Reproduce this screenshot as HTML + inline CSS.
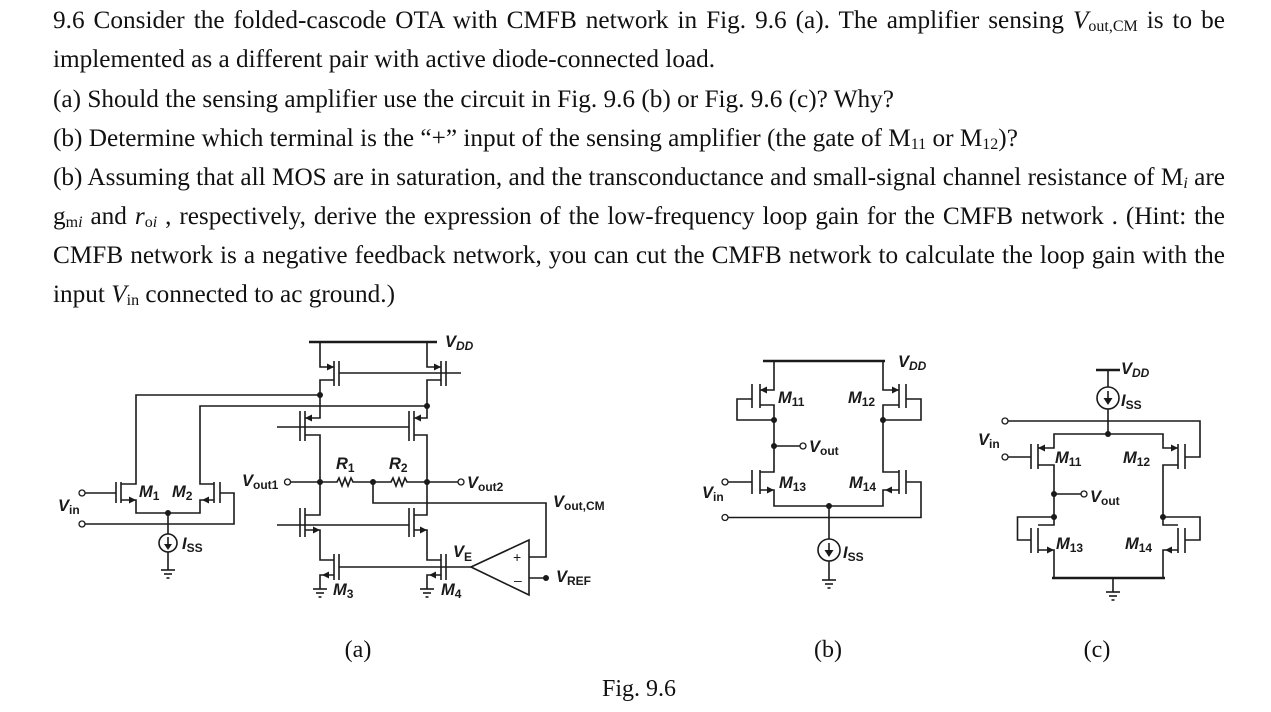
<!DOCTYPE html>
<html><head><meta charset="utf-8"><style>
html,body{margin:0;padding:0;background:#fff;}
body{width:1271px;height:712px;position:relative;overflow:hidden;}
.t{position:absolute;left:53px;width:1172px;font-family:"Liberation Serif","Times New Roman",serif;font-size:25.25px;line-height:39.2px;color:#111;white-space:nowrap;}
.j{text-align:justify;text-align-last:justify;}
.s{font-size:16px;vertical-align:-3px;line-height:0;}
svg{position:absolute;left:0;top:0;}
.w line,.w polyline{stroke:#1a1a1a;stroke-width:1.6;fill:none;}
.w circle.o{fill:#fff;stroke:#1a1a1a;stroke-width:1.3;}
.w circle.d{fill:#1a1a1a;}
.w polygon{fill:#1a1a1a;}
.l{font-family:"Liberation Sans",sans-serif;font-weight:bold;font-style:italic;font-size:16.5px;fill:#1a1a1a;}
.l tspan.b{font-size:12px;font-style:normal;}
.c{font-family:"Liberation Serif","Times New Roman",serif;font-size:24px;fill:#111;}
</style></head><body>
<div class="t j" style="top:1px">9.6 Consider the folded-cascode OTA with CMFB network in Fig. 9.6 (a). The amplifier sensing <i>V</i><span class="s">out,CM</span> is to be</div>
<div class="t" style="top:40px">implemented as a different pair with active diode-connected load.</div>
<div class="t" style="top:79.5px">(a) Should the sensing amplifier use the circuit in Fig. 9.6 (b) or Fig. 9.6 (c)? Why?</div>
<div class="t" style="top:119px">(b) Determine which terminal is the “+” input of the sensing amplifier (the gate of M<span class="s">11</span> or M<span class="s">12</span>)?</div>
<div class="t j" style="top:158px">(b) Assuming that all MOS are in saturation, and the transconductance and small-signal channel resistance of M<i class="s">i</i> are</div>
<div class="t j" style="top:197px">g<span class="s">m<i>i</i></span> and <i>r</i><span class="s">o<i>i</i></span> , respectively, derive the expression of the low-frequency loop gain for the CMFB network . (Hint: the</div>
<div class="t j" style="top:236px">CMFB network is a negative feedback network, you can cut the CMFB network to calculate the loop gain with the</div>
<div class="t" style="top:275px">input <i>V</i><span class="s">in</span> connected to ac ground.)</div>

<svg width="1271" height="712" class="w">
<line x1="309" y1="342" x2="437" y2="342" style="stroke-width:2.6"/>
<polyline points="320,342 320,367 334,367"/><polygon points="327,363.5 334,367 327,370.5"/>
<line x1="334" y1="361" x2="334" y2="386"/><line x1="339" y1="361" x2="339" y2="386"/>
<polyline points="334,380 320,380 320,418 305,418"/><polygon points="312,414.5 305,418 312,421.5"/>
<polyline points="427,342 427,367 441,367"/><polygon points="434,363.5 441,367 434,370.5"/>
<line x1="441" y1="361" x2="441" y2="386"/><line x1="446" y1="361" x2="446" y2="386"/>
<polyline points="441,380 427,380 427,418 414,418"/><polygon points="421,414.5 414,418 421,421.5"/>
<line x1="339" y1="373" x2="461" y2="373"/>
<circle class="d" cx="320" cy="395" r="3"/><circle class="d" cx="427" cy="406" r="3"/>
<polyline points="320,395 136,395 136,484 121,484"/>
<polyline points="427,406 200,406 200,484 214,484"/>
<line x1="305" y1="411" x2="305" y2="441"/><line x1="300" y1="411" x2="300" y2="441"/>
<polyline points="305,435 320,435 320,515 305,515"/>
<line x1="414" y1="411" x2="414" y2="441"/><line x1="409" y1="411" x2="409" y2="441"/>
<polyline points="414,435 427,435 427,515 414,515"/>
<line x1="277" y1="427" x2="409" y2="427"/>
<circle class="d" cx="320" cy="482" r="3"/><circle class="d" cx="427" cy="482" r="3"/><circle class="d" cx="373" cy="482" r="3"/>
<polyline points="290,482 337,482 339,478 342,486 345,478 348,486 351,478 353,482 391,482 393,478 396,486 399,478 402,486 405,478 407,482 458,482"/>
<circle class="o" cx="287.5" cy="482" r="3"/><circle class="o" cx="461" cy="482" r="3"/>
<polyline points="373,482 373,503 546,503 546,557 529,557"/>
<line x1="305" y1="508" x2="305" y2="537"/><line x1="300" y1="508" x2="300" y2="537"/>
<polyline points="305,530 320,530 320,560 334,560"/><polygon points="313,526.5 320,530 313,533.5"/>
<line x1="414" y1="508" x2="414" y2="537"/><line x1="409" y1="508" x2="409" y2="537"/>
<polyline points="414,530 427,530 427,560 441,560"/><polygon points="420,526.5 427,530 420,533.5"/>
<line x1="277" y1="525" x2="409" y2="525"/>
<line x1="334" y1="554" x2="334" y2="580"/><line x1="339" y1="554" x2="339" y2="580"/>
<polyline points="334,575 320,575 320,589"/><polygon points="329,571.5 322,575 329,578.5"/>
<line x1="441" y1="554" x2="441" y2="580"/><line x1="446" y1="554" x2="446" y2="580"/>
<polyline points="441,575 427,575 427,589"/><polygon points="436,571.5 429,575 436,578.5"/>
<line x1="339" y1="567" x2="471" y2="567"/>
<line x1="313" y1="589" x2="327" y2="589"/><line x1="316" y1="593" x2="324" y2="593"/><line x1="318.5" y1="597" x2="321.5" y2="597"/>
<line x1="420" y1="589" x2="434" y2="589"/><line x1="423" y1="593" x2="431" y2="593"/><line x1="425.5" y1="597" x2="428.5" y2="597"/>
<polygon points="471,567 529,540 529,595" style="fill:#fff;stroke:#1a1a1a;stroke-width:1.6"/>
<line x1="529" y1="578" x2="546" y2="578"/><circle class="d" cx="546" cy="578" r="3"/>
<text x="513" y="562" style="font:14px 'Liberation Sans',sans-serif;fill:#1a1a1a">+</text>
<text x="514" y="585" style="font:14px 'Liberation Sans',sans-serif;fill:#1a1a1a">–</text>
<circle class="o" cx="82" cy="493" r="3"/><line x1="85" y1="493" x2="116" y2="493"/>
<line x1="116" y1="482" x2="116" y2="503"/><line x1="121" y1="482" x2="121" y2="503"/>
<polyline points="121,500 136,500 136,513 200,513 200,500 214,500"/><polygon points="129,496.5 136,500 129,503.5"/><polygon points="209,496.5 202,500 209,503.5"/>
<line x1="214" y1="482" x2="214" y2="503"/><line x1="220" y1="482" x2="220" y2="503"/>
<polyline points="220,493 234,493 234,524 85,524"/><circle class="o" cx="82" cy="524" r="3"/>
<circle class="d" cx="168" cy="513" r="3"/>
<line x1="168" y1="513" x2="168" y2="534"/>
<circle cx="168" cy="543" r="9" style="fill:#fff;stroke:#1a1a1a;stroke-width:1.6"/>
<line x1="168" y1="537" x2="168" y2="545"/><polygon points="164,544 172,544 168,550"/>
<line x1="168" y1="552" x2="168" y2="570"/>
<line x1="161" y1="570" x2="175" y2="570"/><line x1="164" y1="574" x2="172" y2="574"/><line x1="166.5" y1="578" x2="169.5" y2="578"/>

<line x1="763" y1="361" x2="885" y2="361" style="stroke-width:2.6"/>
<polyline points="774,361 774,390 760,390"/><polygon points="767,386.5 760,390 767,393.5"/>
<line x1="760" y1="384" x2="760" y2="408"/><line x1="752" y1="384" x2="752" y2="408"/>
<polyline points="760,405 774,405 774,472 760,472"/>
<polyline points="752,399 737,399 737,420 774,420"/><circle class="d" cx="774" cy="420" r="3"/>
<polyline points="883,361 883,390 899,390"/><polygon points="892,386.5 899,390 892,393.5"/>
<line x1="899" y1="384" x2="899" y2="408"/><line x1="906" y1="384" x2="906" y2="408"/>
<polyline points="899,405 883,405 883,472 899,472"/>
<polyline points="906,399 921,399 921,420 883,420"/><circle class="d" cx="883" cy="420" r="3"/>
<circle class="d" cx="774" cy="446" r="3"/><line x1="774" y1="446" x2="800" y2="446"/><circle class="o" cx="803" cy="446" r="3"/>
<line x1="760" y1="470" x2="760" y2="494"/><line x1="752" y1="470" x2="752" y2="494"/>
<circle class="o" cx="725" cy="482" r="3"/><line x1="728" y1="482" x2="752" y2="482"/>
<polyline points="760,490 774,490 774,506 883,506 883,490 899,490"/><polygon points="767,486.5 774,490 767,493.5"/><polygon points="892,486.5 885,490 892,493.5"/>
<line x1="899" y1="470" x2="899" y2="494"/><line x1="906" y1="470" x2="906" y2="494"/>
<polyline points="906,482 921,482 921,517.5 728,517.5"/><circle class="o" cx="725" cy="517.5" r="3"/>
<circle class="d" cx="829" cy="506" r="3"/>
<line x1="829" y1="506" x2="829" y2="539"/>
<circle cx="829" cy="550" r="11" style="fill:#fff;stroke:#1a1a1a;stroke-width:1.6"/>
<line x1="829" y1="543" x2="829" y2="552"/><polygon points="824.5,550 833.5,550 829,557"/>
<line x1="829" y1="561" x2="829" y2="580"/>
<line x1="822" y1="580" x2="836" y2="580"/><line x1="825" y1="584" x2="833" y2="584"/><line x1="827.5" y1="588" x2="830.5" y2="588"/>

<line x1="1096" y1="370" x2="1120" y2="370" style="stroke-width:2.6"/>
<line x1="1108" y1="370" x2="1108" y2="387"/>
<circle cx="1108" cy="398" r="11" style="fill:#fff;stroke:#1a1a1a;stroke-width:1.6"/>
<line x1="1108" y1="391" x2="1108" y2="400"/><polygon points="1103.5,398 1112.5,398 1108,405"/>
<line x1="1108" y1="409" x2="1108" y2="434"/>
<circle class="o" cx="1005" cy="421" r="3"/><polyline points="1008,421 1200,421 1200,457 1185,457"/>
<polyline points="1038,448 1054,448 1054,434 1163,434 1163,448 1178,448"/>
<polygon points="1045,444.5 1038,448 1045,451.5"/><polygon points="1171,444.5 1178,448 1171,451.5"/>
<circle class="d" cx="1108" cy="434" r="3"/>
<line x1="1038" y1="444" x2="1038" y2="469"/><line x1="1031" y1="444" x2="1031" y2="469"/>
<circle class="o" cx="1005" cy="457" r="3"/><line x1="1008" y1="457" x2="1031" y2="457"/>
<line x1="1178" y1="444" x2="1178" y2="469"/><line x1="1185" y1="444" x2="1185" y2="469"/>
<polyline points="1038,465 1054,465 1054,525 1038,525"/>
<polyline points="1178,465 1163,465 1163,525 1178,525"/>
<circle class="d" cx="1054" cy="494" r="3"/><line x1="1054" y1="494" x2="1081" y2="494"/><circle class="o" cx="1084" cy="494" r="3"/>
<circle class="d" cx="1054" cy="517" r="3"/><circle class="d" cx="1163" cy="517" r="3"/>
<polyline points="1054,517 1017.5,517 1017.5,540 1031,540"/>
<polyline points="1163,517 1200,517 1200,540 1185,540"/>
<line x1="1038" y1="528" x2="1038" y2="553"/><line x1="1031" y1="528" x2="1031" y2="553"/>
<line x1="1178" y1="528" x2="1178" y2="553"/><line x1="1185" y1="528" x2="1185" y2="553"/>
<polyline points="1038,550 1054,550 1054,578"/><polygon points="1047,546.5 1054,550 1047,553.5"/>
<polyline points="1178,550 1163,550 1163,578"/><polygon points="1172,546.5 1165,550 1172,553.5"/>
<line x1="1052" y1="578" x2="1165" y2="578" style="stroke-width:2.6"/>
<line x1="1113" y1="578" x2="1113" y2="592"/>
<line x1="1106" y1="592" x2="1120" y2="592"/><line x1="1109" y1="596" x2="1117" y2="596"/><line x1="1111.5" y1="600" x2="1114.5" y2="600"/>

<g class="l">
<text x="445" y="347">V<tspan class="b" dy="3" style="font-style:italic">DD</tspan></text>
<text x="336" y="469">R<tspan class="b" dy="3">1</tspan></text>
<text x="389" y="469">R<tspan class="b" dy="3">2</tspan></text>
<text x="242" y="486">V<tspan class="b" dy="3">out1</tspan></text>
<text x="467" y="488">V<tspan class="b" dy="3">out2</tspan></text>
<text x="553" y="507">V<tspan class="b" dy="3">out,CM</tspan></text>
<text x="453" y="557">V<tspan class="b" dy="4">E</tspan></text>
<text x="556" y="582">V<tspan class="b" dy="3">REF</tspan></text>
<text x="333" y="595">M<tspan class="b" dy="3">3</tspan></text>
<text x="441" y="595">M<tspan class="b" dy="3">4</tspan></text>
<text x="139" y="497">M<tspan class="b" dy="3">1</tspan></text>
<text x="172" y="497">M<tspan class="b" dy="3">2</tspan></text>
<text x="58" y="511">V<tspan class="b" dy="3">in</tspan></text>
<text x="182" y="549">I<tspan class="b" dy="3">SS</tspan></text>
<text x="898" y="367">V<tspan class="b" dy="3" style="font-style:italic">DD</tspan></text>
<text x="778" y="403">M<tspan class="b" dy="3">11</tspan></text>
<text x="848" y="403">M<tspan class="b" dy="3">12</tspan></text>
<text x="809" y="452">V<tspan class="b" dy="3">out</tspan></text>
<text x="779" y="488">M<tspan class="b" dy="3">13</tspan></text>
<text x="849" y="488">M<tspan class="b" dy="3">14</tspan></text>
<text x="702" y="498">V<tspan class="b" dy="3">in</tspan></text>
<text x="843" y="558">I<tspan class="b" dy="3">SS</tspan></text>
<text x="1121" y="374">V<tspan class="b" dy="3" style="font-style:italic">DD</tspan></text>
<text x="1121" y="406">I<tspan class="b" dy="3">SS</tspan></text>
<text x="978" y="445">V<tspan class="b" dy="3">in</tspan></text>
<text x="1055" y="463">M<tspan class="b" dy="3">11</tspan></text>
<text x="1123" y="463">M<tspan class="b" dy="3">12</tspan></text>
<text x="1090" y="502">V<tspan class="b" dy="3">out</tspan></text>
<text x="1056" y="549">M<tspan class="b" dy="3">13</tspan></text>
<text x="1125" y="549">M<tspan class="b" dy="3">14</tspan></text>
</g>
<text class="c" x="358" y="657" text-anchor="middle">(a)</text>
<text class="c" x="828" y="657" text-anchor="middle">(b)</text>
<text class="c" x="1097" y="657" text-anchor="middle">(c)</text>
<text class="c" x="639" y="696" text-anchor="middle">Fig. 9.6</text>
</svg>
</body></html>
